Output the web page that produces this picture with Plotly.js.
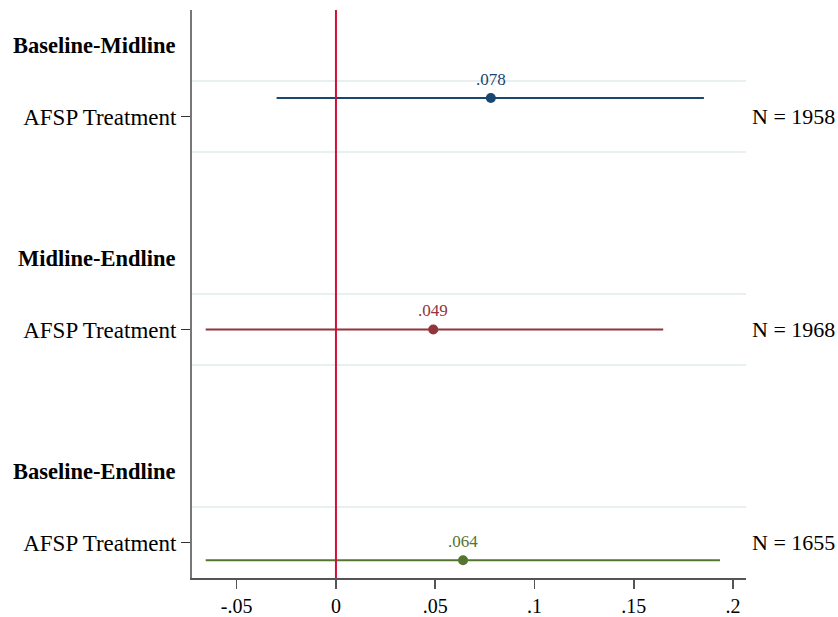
<!DOCTYPE html>
<html>
<head>
<meta charset="utf-8">
<script src="https://cdn.plot.ly/plotly-3.0.1.min.js"></script>
<style>
  html, body { margin: 0; padding: 0; background: #ffffff; }
  #chart { width: 838px; height: 617px; }
</style>
</head>
<body>
<div id="chart"></div>
<script>
// Treatment effect estimates by survey round pair
const groups = ['Baseline-Midline', 'Midline-Endline', 'Baseline-Endline'];
const coefName = 'AFSP Treatment';
const coef = [0.078, 0.049, 0.064];
const ciLow = [-0.0299, -0.0656, -0.0656];
const ciHigh = [0.1853, 0.1648, 0.1934];
const nObs = [1958, 1968, 1655];
const seriesColors = ['#1a476f', '#90353b', '#55752f'];

// x-axis ticks
const xTickVals = [-0.05, 0, 0.05, 0.1, 0.15, 0.2];
const xTickText = ['-.05', '0', '.05', '.1', '.15', '.2'];

// vertical layout: each group takes a header row and a coefficient row
const headerPos = [1, 4, 7];
const rowPos = [2, 5, 8];
const modelOffset = [-0.26, 0, 0.25];
const gridPos = [1.5, 2.5, 4.5, 5.5, 7.5, 8.5];

const FONT = 'Liberation Serif, Times New Roman, serif';

function fmt(v) {
  const s = v.toFixed(3);
  return s.replace(/^0\./, '.').replace(/^-0\./, '-.');
}

const traces = coef.map((c, i) => ({
  type: 'scatter',
  mode: 'markers',
  x: [c],
  y: [rowPos[i] + modelOffset[i]],
  marker: { size: 10, color: seriesColors[i], symbol: 'circle' },
  error_x: {
    type: 'data',
    symmetric: false,
    array: [ciHigh[i] - c],
    arrayminus: [c - ciLow[i]],
    width: 0,
    thickness: 2,
    color: seriesColors[i]
  },
  showlegend: false,
  hoverinfo: 'skip'
}));

// invisible trace on the grid axis so it is drawn
traces.push({
  type: 'scatter', mode: 'markers', x: [0], y: [1], yaxis: 'y2',
  marker: { opacity: 0 }, showlegend: false, hoverinfo: 'skip'
});

const annotations = [];
groups.forEach((g, i) => {
  annotations.push({
    xref: 'paper', yref: 'y', x: 0, y: headerPos[i],
    xanchor: 'right', yanchor: 'middle', xshift: -14,
    text: '<b>' + g + '</b>', showarrow: false,
    font: { family: FONT, size: 22.5, color: '#000000' }
  });
  annotations.push({
    xref: 'paper', yref: 'y', x: 1, y: rowPos[i],
    xanchor: 'left', yanchor: 'middle', xshift: 4,
    text: 'N = ' + nObs[i], showarrow: false,
    font: { family: FONT, size: 22, color: '#000000' }
  });
  annotations.push({
    xref: 'x', yref: 'y', x: coef[i], y: rowPos[i] + modelOffset[i],
    xanchor: 'center', yanchor: 'middle', yshift: 19,
    text: fmt(coef[i]), showarrow: false,
    font: { family: FONT, size: 17, color: seriesColors[i] }
  });
});

const layout = {
  width: 838,
  height: 617,
  margin: { l: 192, r: 92, t: 10, b: 39 },
  paper_bgcolor: '#ffffff',
  plot_bgcolor: '#ffffff',
  font: { family: FONT, size: 20, color: '#000000' },
  showlegend: false,
  xaxis: {
    range: [-0.0725, 0.2065],
    tickmode: 'array',
    tickvals: xTickVals,
    ticktext: xTickText,
    ticks: 'outside',
    ticklen: 9,
    tickwidth: 1.5,
    tickcolor: '#555555',
    showline: true,
    linecolor: '#555555',
    linewidth: 1.5,
    showgrid: false,
    zeroline: false,
    tickfont: { family: FONT, size: 20, color: '#000000' }
  },
  yaxis: {
    range: [8.5, 0.5],
    tickmode: 'array',
    tickvals: rowPos,
    ticktext: rowPos.map(() => coefName),
    ticks: 'outside',
    ticklen: 9,
    tickwidth: 1.5,
    tickcolor: '#333333',
    showline: true,
    linecolor: '#777777',
    linewidth: 2,
    showgrid: false,
    zeroline: false,
    tickfont: { family: FONT, size: 23, color: '#000000' }
  },
  yaxis2: {
    overlaying: 'y',
    range: [8.5, 0.5],
    tickmode: 'array',
    tickvals: gridPos,
    showticklabels: false,
    ticks: '',
    showgrid: true,
    gridcolor: '#e9f0f2',
    gridwidth: 2,
    zeroline: false,
    showline: false
  },
  shapes: [{
    type: 'line', xref: 'x', yref: 'paper',
    x0: 0, x1: 0, y0: 0, y1: 1,
    line: { color: '#d0103a', width: 2 },
    layer: 'above'
  }],
  annotations: annotations
};

Plotly.newPlot('chart', traces, layout, { displayModeBar: false, staticPlot: true });
</script>
</body>
</html>
